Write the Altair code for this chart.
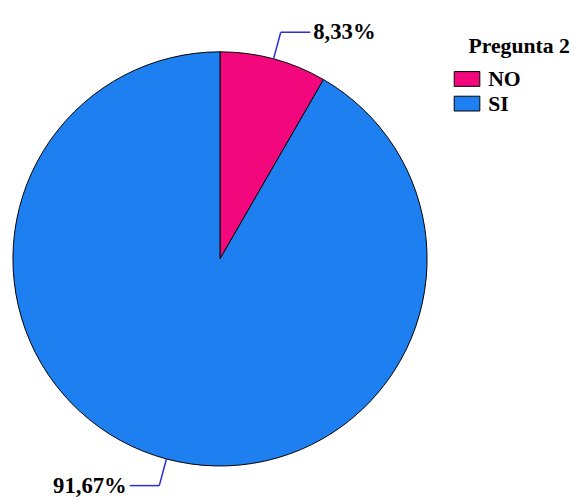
import altair as alt
import pandas as pd

categories = ["NO", "SI"]
values = [8.33, 91.67]
labels = ["8,33%", "91,67%"]
colors = ["#F2087C", "#1E80F0"]
legend_title = "Pregunta 2"

df = pd.DataFrame({"cat": categories, "value": values, "label": labels})

CX, CY, R, R2, H = 215, 251, 210, 238, 30
LC = "#2A2AD8"
FONT = "Liberation Serif"

base = alt.Chart(df)

pie = base.mark_arc(outerRadius=R, stroke="black", strokeWidth=1).encode(
    theta=alt.Theta("value:Q", stack=True),
    color=alt.Color(
        "cat:N",
        scale=alt.Scale(domain=categories, range=colors),
        legend=alt.Legend(
            title=None, orient="none", legendX=452, legendY=55,
            symbolType="M-1,-0.577H1V0.577H-1Z", symbolSize=676,
            symbolStrokeColor="black", symbolStrokeWidth=1,
            labelFont=FONT, labelFontSize=22, labelFontWeight="bold",
            labelColor="black", labelOffset=8, rowPadding=0, padding=0,
        ),
    ),
    order=alt.Order("cat:N"),
    x=alt.value(CX),
    y=alt.value(CY),
)

geo = (
    base.transform_joinaggregate(total="sum(value)")
    .transform_window(cum="sum(value)", sort=[alt.SortField("cat")])
    .transform_calculate(mid="(datum.cum - datum.value/2)/datum.total*2*PI")
    .transform_calculate(ax=f"{CX}+{R}*sin(datum.mid)")
    .transform_calculate(ay=f"{CY}-{R}*cos(datum.mid)")
    .transform_calculate(ex=f"{CX}+{R2}*sin(datum.mid)")
    .transform_calculate(ey=f"{CY}-{R2}*cos(datum.mid)")
    .transform_calculate(side="sin(datum.mid)>=0?1:-1")
    .transform_calculate(hx=f"datum.ex+datum.side*{H}")
    .transform_calculate(tx="datum.hx+datum.side*3")
)

seg1 = geo.mark_rule(color=LC, strokeWidth=1.5).encode(
    x=alt.X("ax:Q", scale=None, axis=None),
    y=alt.Y("ay:Q", scale=None, axis=None),
    x2="ex:Q", y2="ey:Q",
)
seg2 = geo.mark_rule(color=LC, strokeWidth=1.5).encode(
    x=alt.X("ex:Q", scale=None, axis=None),
    y=alt.Y("ey:Q", scale=None, axis=None),
    x2="hx:Q", y2="ey:Q",
)

txt_r = geo.transform_filter("datum.side>0").mark_text(
    align="left", baseline="middle", font=FONT, fontSize=23, fontWeight="bold", color="black"
).encode(
    x=alt.X("tx:Q", scale=None, axis=None),
    y=alt.Y("ey:Q", scale=None, axis=None),
    text="label:N",
)
txt_l = geo.transform_filter("datum.side<0").mark_text(
    align="right", baseline="middle", font=FONT, fontSize=23, fontWeight="bold", color="black"
).encode(
    x=alt.X("tx:Q", scale=None, axis=None),
    y=alt.Y("ey:Q", scale=None, axis=None),
    text="label:N",
)

title = alt.Chart(pd.DataFrame({"t": [legend_title]})).mark_text(
    align="left", baseline="alphabetic", font=FONT, fontSize=22, fontWeight="bold", color="black"
).encode(x=alt.value(467), y=alt.value(42), text="t:N")

chart = alt.layer(pie, seg1, seg2, txt_r, txt_l, title).properties(
    width=574, height=490, padding=0, autosize="none", background="white"
).configure(font=FONT).configure_view(stroke=None).configure_legend(
    labelFont=FONT, labelFontSize=22, labelFontWeight="bold", labelColor="black"
)

chart.save("out.html", embed_options={"renderer": "svg", "actions": False})
